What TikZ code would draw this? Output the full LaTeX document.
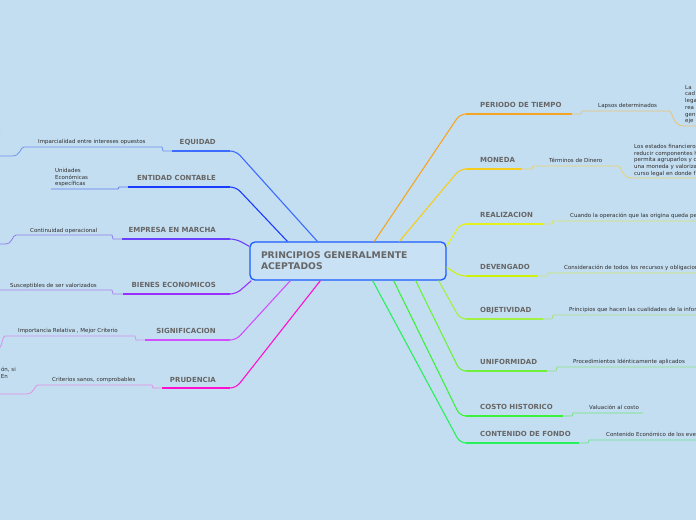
\documentclass[tikz,border=0pt]{standalone}
\usepackage{fontspec}
\setmainfont{DejaVu Sans}
\usetikzlibrary{calc}
\definecolor{bg}{RGB}{196,222,241}
\definecolor{nodefill}{RGB}{200,225,244}
\definecolor{nodeborder}{RGB}{26,92,255}
\definecolor{labgray}{RGB}{102,102,102}
\definecolor{subgray}{RGB}{45,45,45}
\definecolor{cEqu}{RGB}{59,107,255}\definecolor{sEqu}{RGB}{110,145,240}
\definecolor{cEnt}{RGB}{26,60,255}\definecolor{sEnt}{RGB}{95,125,240}
\definecolor{cEmp}{RGB}{106,64,255}\definecolor{sEmp}{RGB}{140,125,240}
\definecolor{cBie}{RGB}{154,48,255}\definecolor{sBie}{RGB}{170,130,240}
\definecolor{cSig}{RGB}{208,80,255}\definecolor{sSig}{RGB}{210,145,240}
\definecolor{cPru}{RGB}{255,16,208}\definecolor{sPru}{RGB}{225,145,230}
\definecolor{cPer}{RGB}{245,165,35}\definecolor{sPer}{RGB}{235,195,115}
\definecolor{cMon}{RGB}{245,205,30}\definecolor{sMon}{RGB}{232,210,110}
\definecolor{cRea}{RGB}{228,240,30}\definecolor{sRea}{RGB}{215,230,100}
\definecolor{cDev}{RGB}{205,242,10}\definecolor{sDev}{RGB}{200,232,110}
\definecolor{cObj}{RGB}{160,240,70}\definecolor{sObj}{RGB}{165,225,130}
\definecolor{cUni}{RGB}{110,240,60}\definecolor{sUni}{RGB}{140,225,130}
\definecolor{cCos}{RGB}{60,240,60}\definecolor{sCos}{RGB}{110,230,120}
\definecolor{cCon}{RGB}{40,240,90}\definecolor{sCon}{RGB}{100,230,140}
\newcommand\pgalabfont{\bfseries\fontsize{7}{8}\selectfont}
\newcommand\pgasubfont{\fontsize{5.5}{6.7}\selectfont}
\newcommand\pgamainfont{\bfseries\fontsize{9.2}{11}\selectfont}
\tikzset{
  lab/.style={font=\pgalabfont, text=labgray, inner sep=0pt},
  subt/.style={font=\pgasubfont, text=subgray, inner sep=0pt},
  conn/.style={line width=1.1pt, rounded corners=6pt},
  uline/.style={line width=1.9pt},
  sline/.style={line width=0.8pt},
  pgabox/.style={draw=nodeborder, fill=nodefill, line width=1.3pt, rounded corners=5pt,
    minimum width=196pt, minimum height=38pt, text width=174pt, align=left,
    inner xsep=11pt, inner ysep=0pt, font=\pgamainfont, text=labgray}
}
\begin{document}
\begin{tikzpicture}[x=1pt,y=-1pt]
\clip (0,0) rectangle (696,520);
\fill[bg] (0,0) rectangle (696,520);

% central node
\node[pgabox] (pga) at (348,261) {PRINCIPIOS GENERALMENTE\\ACEPTADOS};

% attachment points on the central node
\coordinate (pEqu) at ($(pga.north west)+(68,0)$);
\coordinate (pEnt) at ($(pga.north west)+(38,0)$);
\coordinate (pEmp) at ($(pga.north west)+(0,5)$);
\coordinate (pBie) at ($(pga.south west)+(2,0)$);
\coordinate (pSig) at ($(pga.south west)+(41,0)$);
\coordinate (pPru) at ($(pga.south west)+(71,0)$);
\coordinate (pPer) at ($(pga.north west)+(125,0)$);
\coordinate (pMon) at ($(pga.north west)+(150,0)$);
\coordinate (pRea) at ($(pga.north east)+(0,5)$);
\coordinate (pDev) at ($(pga.north east)+(0,26)$);
\coordinate (pObj) at ($(pga.south east)+(-8,0)$);
\coordinate (pUni) at ($(pga.south east)+(-31,0)$);
\coordinate (pCos) at ($(pga.south east)+(-53,0)$);
\coordinate (pCon) at ($(pga.south east)+(-74,0)$);

% ---------- left branches ----------
% EQUIDAD
\draw[conn,cEqu] (pEqu) -- (236,151) -- (226,151);
\draw[uline,cEqu] (230,151) -- (172,151);
\draw[sline,sEqu] (172,151) -- (163,151) -- (162,147) -- (24,147) .. controls (20,147) and (21,156) .. (12,156) -- (-2,156);
\node[lab,anchor=base east] (equ) at (216,144) {EQUIDAD};
\node[subt,anchor=base west] (equs) at (38,143) {Imparcialidad entre intereses opuestos};
\node[subt,anchor=base west] (equss) at (-1,132) {l};

% ENTIDAD CONTABLE
\draw[conn,cEnt] (pEnt) -- (236,187) -- (226,187);
\draw[uline,cEnt] (230,187) -- (128,187);
\draw[sline,sEnt] (128,187) -- (119,187) -- (118,189) -- (51,189);
\node[lab,anchor=base east] (ent) at (216,180) {ENTIDAD CONTABLE};
\node[subt,anchor=north west,align=left] (ents) at (55,168) {Unidades\\Económicas\\específicas};

% EMPRESA EN MARCHA
\draw[conn,cEmp] (pEmp) -- (236,239) -- (226,239);
\draw[uline,cEmp] (230,239) -- (122,239);
\draw[sline,sEmp] (122,239) -- (113,239) -- (112,235) -- (16,235) .. controls (12,235) and (13,244) .. (5,244) -- (-2,244);
\node[lab,anchor=base east] (emp) at (216,232) {EMPRESA EN MARCHA};
\node[subt,anchor=base west] (emps) at (30,232) {Continuidad operacional};

% BIENES ECONOMICOS
\draw[conn,cBie] (pBie) -- (236,294) -- (226,294);
\draw[uline,cBie] (230,294) -- (123,294);
\draw[sline,sBie] (123,294) -- (113,294) -- (112,290) -- (-2,290);
\node[lab,anchor=base east] (bie) at (216,287) {BIENES ECONOMICOS};
\node[subt,anchor=base west] (bies) at (10,287) {Susceptibles de ser valorizados};

% SIGNIFICACION
\draw[conn,cSig] (pSig) -- (236,340) -- (226,340);
\draw[uline,cSig] (230,340) -- (145,340);
\draw[sline,sSig] (145,340) -- (136,340) -- (135,336) -- (5,336) .. controls (2,336) and (3,346) .. (-2,350);
\node[lab,anchor=base east] (sig) at (216,333) {SIGNIFICACION};
\node[subt,anchor=base west] (sigs) at (18,332) {Importancia Relativa , Mejor Criterio};

% PRUDENCIA
\draw[conn,cPru] (pPru) -- (236,388) -- (226,388);
\draw[uline,cPru] (230,388) -- (162,388);
\draw[sline,sPru] (162,388) -- (153,388) -- (152,385) -- (38,385) .. controls (34,385) and (35,394) .. (26,394) -- (-2,394);
\node[lab,anchor=base east] (pru) at (216,382) {PRUDENCIA};
\node[subt,anchor=base west] (prus) at (52,381) {Criterios sanos, comprobables};
\node[subt,anchor=base east] (pruss1) at (16,371) {ón, si};
\node[subt,anchor=base east] (pruss2) at (8,378) {En};

% ---------- right branches ----------
% PERIODO DE TIEMPO
\draw[conn,cPer] (pPer) -- (460,114) -- (470,114);
\draw[uline,cPer] (466,114) -- (572,114);
\draw[sline,sPer] (572,114) -- (581,114) -- (582,111) -- (669,111) .. controls (673,111) and (672,126) .. (684,126) -- (700,126);
\node[lab,anchor=base west] (per) at (480,107) {PERIODO DE TIEMPO};
\node[subt,anchor=base west] (pers) at (598,107) {Lapsos determinados};
\node[subt,anchor=north west,align=left] (perss) at (685,85) {La\\cad\\lega\\rea\\gen\\eje};

% MONEDA
\draw[conn,cMon] (pMon) -- (460,169) -- (470,169);
\draw[uline,cMon] (466,169) -- (522,169);
\draw[sline,sMon] (522,169) -- (532,169) -- (533,166) -- (618,166) .. controls (622,166) and (621,178) .. (632,178) -- (700,178);
\node[lab,anchor=base west] (mon) at (480,162) {MONEDA};
\node[subt,anchor=base west] (mons) at (549,162) {Términos de Dinero};
\node[subt,anchor=north west,align=left] (monss) at (634,144) {Los estados financieros\\reducir componentes h\\permita agruparlos y c\\una moneda y valoriza\\curso legal en donde f};

% REALIZACION
\draw[conn,cRea] (pRea) -- (460,224) -- (470,224);
\draw[uline,cRea] (466,224) -- (543,224);
\draw[sline,sRea] (543,224) -- (552,224) -- (553,221) -- (700,221);
\node[lab,anchor=base west] (rea) at (480,217.5) {REALIZACION};
\node[subt,anchor=base west] (reas) at (570,217) {Cuando la operación que las origina queda pe};

% DEVENGADO
\draw[conn,cDev] (pDev) -- (460,276) -- (470,276);
\draw[uline,cDev] (466,276) -- (537,276);
\draw[sline,sDev] (537,276) -- (547,276) -- (548,273) -- (700,273);
\node[lab,anchor=base west] (dev) at (480,269) {DEVENGADO};
\node[subt,anchor=base west] (devs) at (564,269) {Consideración de todos los recursos y obligacion};

% OBJETIVIDAD
\draw[conn,cObj] (pObj) -- (460,319) -- (470,319);
\draw[uline,cObj] (466,319) -- (543,319);
\draw[sline,sObj] (543,319) -- (552,319) -- (553,315) -- (700,315);
\node[lab,anchor=base west] (obj) at (480,312) {OBJETIVIDAD};
\node[subt,anchor=base west] (objs) at (569,311) {Principios que hacen las cualidades de la infor};

% UNIFORMIDAD
\draw[conn,cUni] (pUni) -- (460,371) -- (470,371);
\draw[uline,cUni] (466,371) -- (547,371);
\draw[sline,sUni] (547,371) -- (556,371) -- (557,367) -- (700,367);
\node[lab,anchor=base west] (uni) at (480,364) {UNIFORMIDAD};
\node[subt,anchor=base west] (unis) at (573,363) {Procedimientos Idénticamente aplicados};

% COSTO HISTORICO
\draw[conn,cCos] (pCos) -- (460,416) -- (470,416);
\draw[uline,cCos] (466,416) -- (563,416);
\draw[sline,sCos] (563,416) -- (572,416) -- (573,413) -- (643,413);
\node[lab,anchor=base west] (cos) at (480,409) {COSTO HISTORICO};
\node[subt,anchor=base west] (coss) at (589,409) {Valuación al costo};

% CONTENIDO DE FONDO
\draw[conn,cCon] (pCon) -- (460,443) -- (470,443);
\draw[uline,cCon] (466,443) -- (579,443);
\draw[sline,sCon] (579,443) -- (588,443) -- (589,440) -- (700,440);
\node[lab,anchor=base west] (con) at (480,436) {CONTENIDO DE FONDO};
\node[subt,anchor=base west] (cons) at (606,436) {Contenido Económico de los eve};
\end{tikzpicture}
\end{document}
